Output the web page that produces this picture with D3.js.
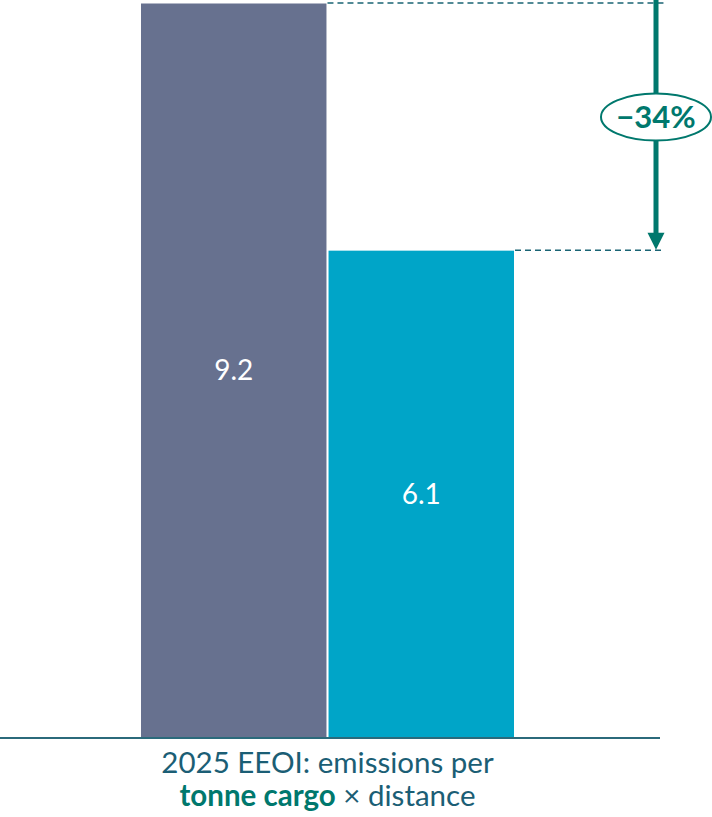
<!DOCTYPE html>
<html>
<head>
<meta charset="utf-8">
<style>
    body { margin: 0; background: #fff; }
    text { font-family: "Source Sans Pro", Lato, "Open Sans", sans-serif; }
</style>
</head>
<body>
<svg id="container" width="712" height="817"></svg>
<script src="https://cdn.jsdelivr.net/npm/d3@7"></script>
<script>
    // data
    let categories = ["Before", "2025"]
    let values = [9.2, 6.1]
    let colors = ["#67718f", "#00a5c8"]
    let captionLine1 = "2025 EEOI: emissions per"
    let captionBold = "tonne cargo"
    let captionRest = " × distance"

    let svg = d3.select("#container")
    let teal = "#00786d"

    let x = d3.scaleBand()
        .domain(categories)
        .range([141, 514])
        .paddingInner(0.011)

    let y = d3.scaleLinear()
        .domain([0, d3.max(values)])
        .range([737, 3.5])

    let data = categories.map((c, i) => ({ cat: c, value: values[i], color: colors[i] }))

    // bars
    svg.selectAll(".bar")
        .data(data)
        .enter().append("rect")
        .attr("class", "bar")
        .attr("x", d => x(d.cat))
        .attr("y", d => y(d.value))
        .attr("width", x.bandwidth())
        .attr("height", d => y(0) - y(d.value))
        .style("fill", d => d.color)

    // value labels
    svg.selectAll(".val")
        .data(data)
        .enter().append("text")
        .attr("x", d => x(d.cat) + x.bandwidth() / 2)
        .attr("y", d => (y(d.value) + y(0)) / 2)
        .attr("dy", "0.36em")
        .attr("text-anchor", "middle")
        .style("font-size", "28px")
        .style("fill", "#fff")
        .text(d => d.value.toFixed(1))

    // baseline
    svg.append("line")
        .attr("x1", 0).attr("x2", 660)
        .attr("y1", y(0) + 1).attr("y2", y(0) + 1)
        .style("stroke", "#2b6a7b")
        .style("stroke-width", 2)

    // dashed guides from bar tops
    let arrowX = 656
    data.forEach(d => {
        svg.append("line")
            .attr("x1", x(d.cat) + x.bandwidth() + 1)
            .attr("x2", 664)
            .attr("y1", y(d.value) - 0.5)
            .attr("y2", y(d.value) - 0.5)
            .style("stroke", "#1a6474")
            .style("stroke-width", 1.5)
            .style("stroke-dasharray", "6,4")
    })

    // arrow
    let yBot = y(values[1])
    svg.append("line")
        .attr("x1", arrowX).attr("x2", arrowX)
        .attr("y1", 0).attr("y2", yBot - 14)
        .style("stroke", teal)
        .style("stroke-width", 5)
    svg.append("path")
        .attr("d", "M" + (arrowX - 8.5) + "," + (yBot - 18) + "L" + (arrowX + 8.5) + "," + (yBot - 18) + "L" + arrowX + "," + (yBot - 1) + "Z")
        .style("fill", teal)

    // percentage bubble
    let pct = (values[1] - values[0]) / values[0]
    let cy = 117
    svg.append("ellipse")
        .attr("cx", arrowX).attr("cy", cy)
        .attr("rx", 55).attr("ry", 23.5)
        .style("fill", "#fff")
        .style("stroke", teal)
        .style("stroke-width", 2)
    svg.append("text")
        .attr("x", arrowX).attr("y", cy)
        .attr("dy", "0.36em")
        .attr("text-anchor", "middle")
        .style("font-size", "31px")
        .style("font-weight", "bold")
        .style("fill", teal)
        .text("\u2212" + Math.round(Math.abs(pct) * 100) + "%")

    // caption
    let cx = (x.range()[0] + x.range()[1]) / 2
    svg.append("text")
        .attr("x", cx).attr("y", 773)
        .attr("text-anchor", "middle")
        .style("font-size", "29.5px")
        .style("fill", "#1b5e75")
        .text(captionLine1)
    let t2 = svg.append("text")
        .attr("x", cx).attr("y", 806)
        .attr("text-anchor", "middle")
        .style("font-size", "29.5px")
        .style("fill", "#1b5e75")
    t2.append("tspan").style("font-weight", "bold").style("fill", teal).text(captionBold)
    t2.append("tspan").text(captionRest)
</script>
</body>
</html>
